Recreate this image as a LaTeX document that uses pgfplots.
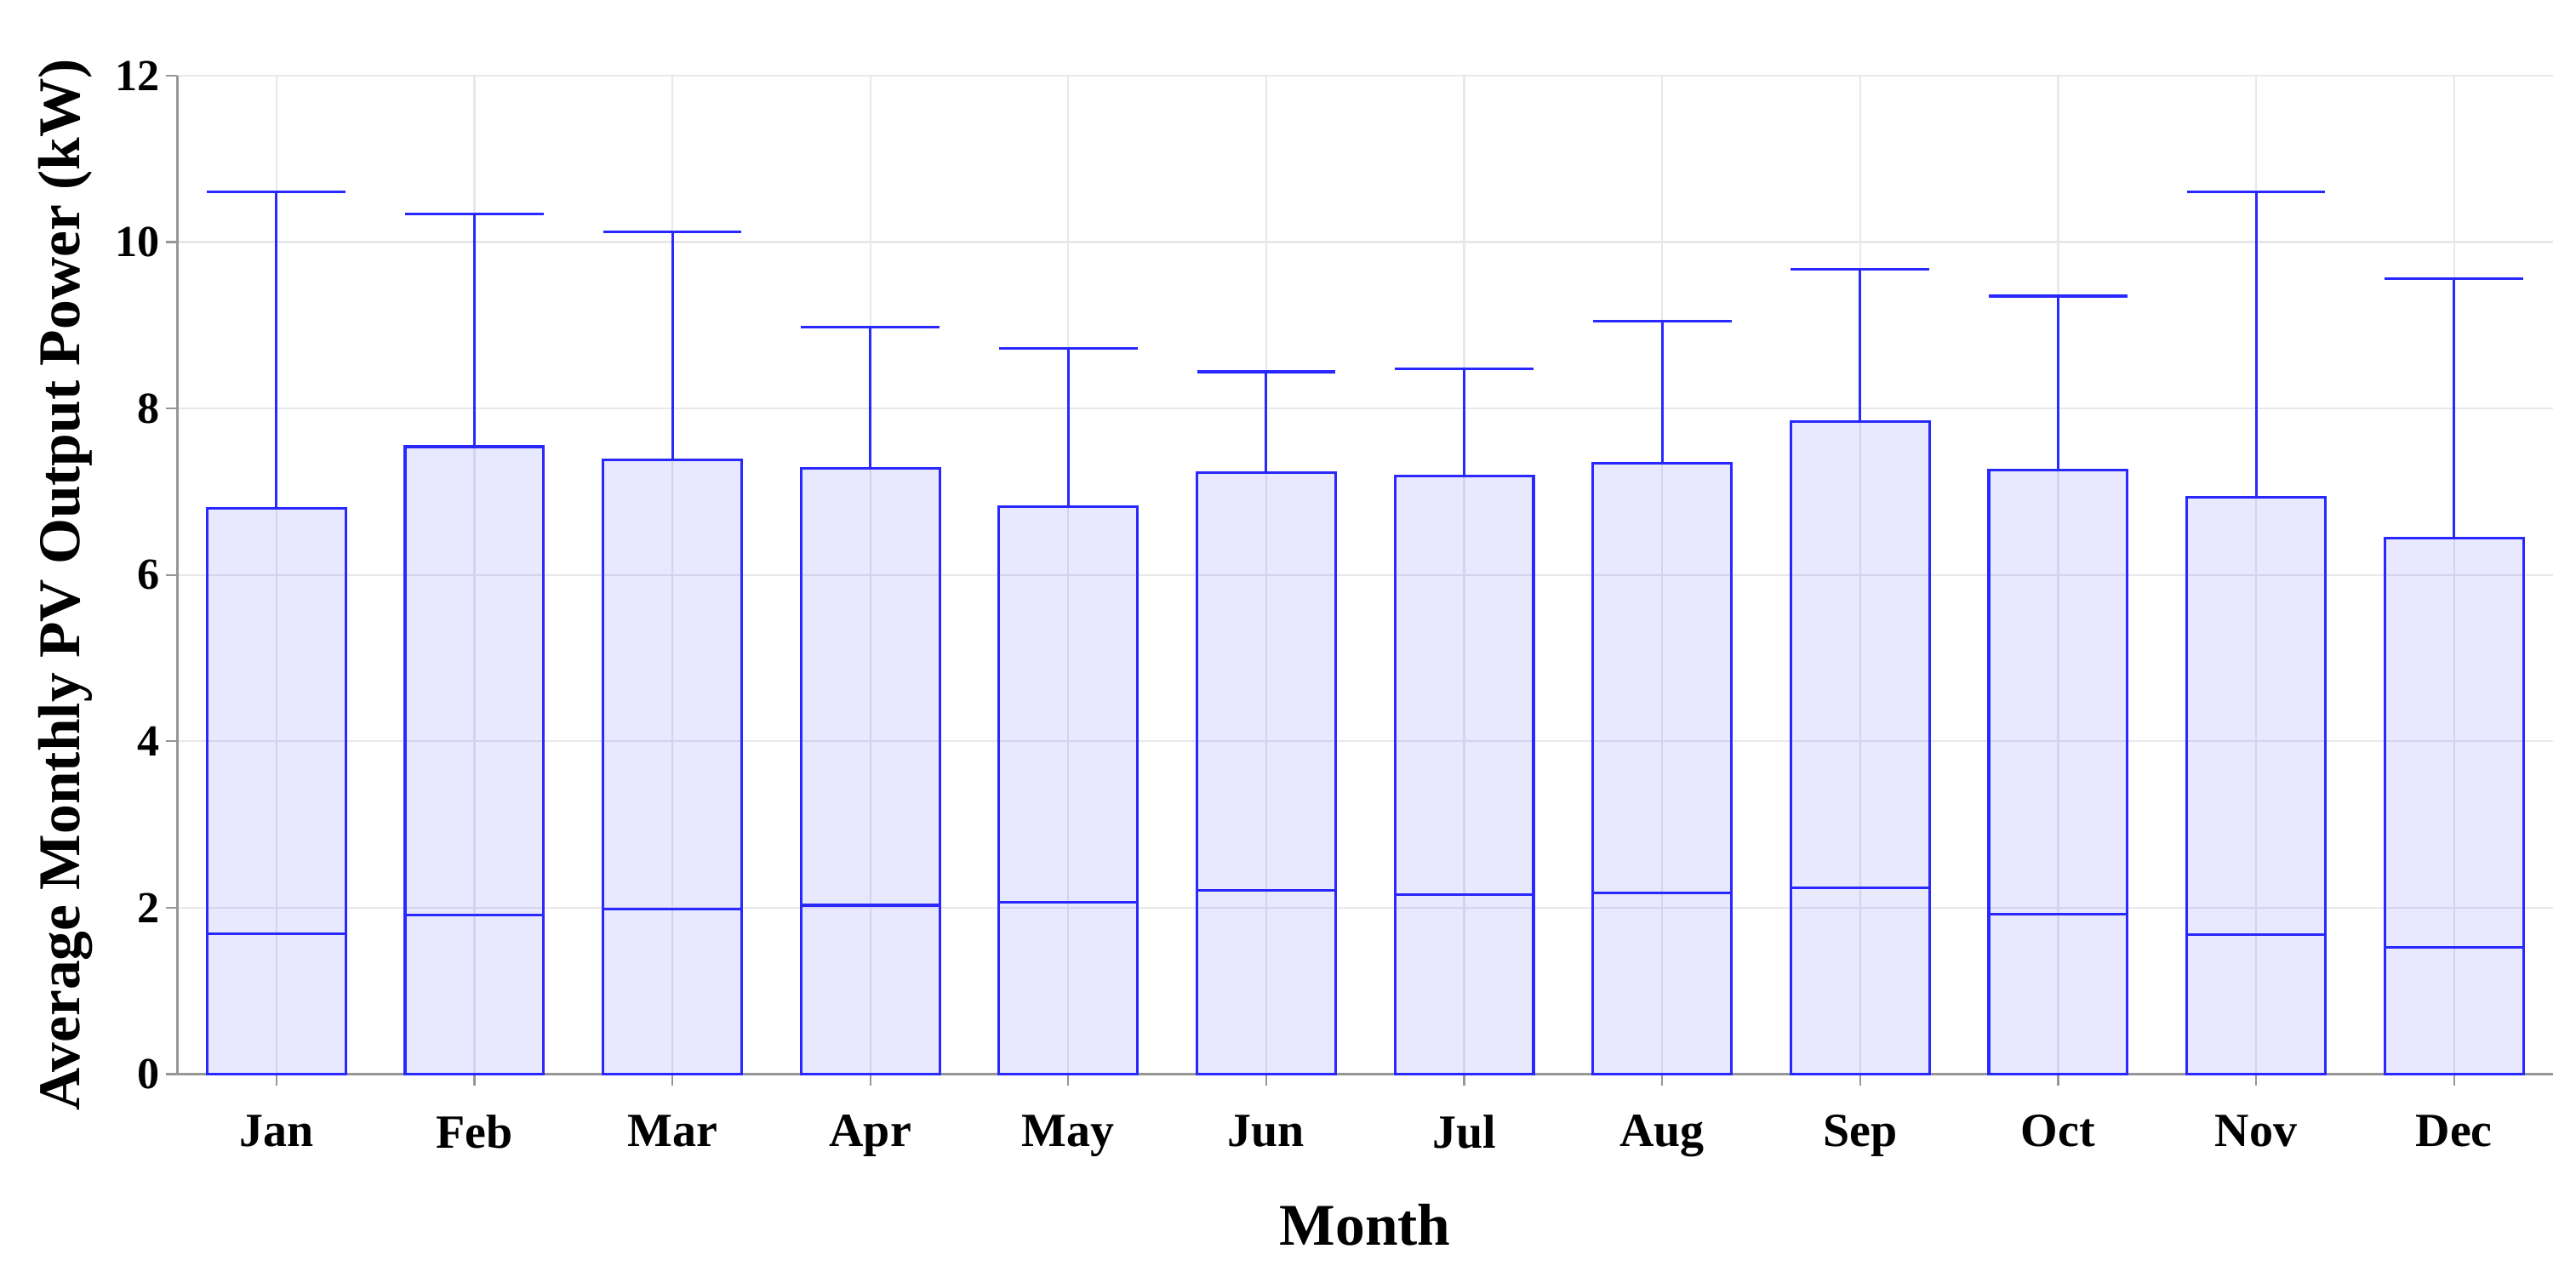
\documentclass[border=0pt]{standalone}
\usepackage{fontspec}
\setmainfont{Liberation Serif}
\usepackage{pgfplots}
\pgfplotsset{compat=1.18}
\usepgfplotslibrary{statistics}
\definecolor{boxblue}{RGB}{40,40,255}
\definecolor{gridc}{RGB}{232,232,236}
\definecolor{axisc}{RGB}{150,150,150}
\pgfplotsset{
  mybox/.style={draw=boxblue, fill=blue, fill opacity=0.09, line width=0.8pt, solid},
}
\begin{document}
\begin{tikzpicture}
\begin{axis}[
  scale only axis, width=723pt, height=304pt,
  xmin=-0.5, xmax=11.5, ymin=0, ymax=12,
  xtick={0,...,11},
  xticklabels={Jan,Feb,Mar,Apr,May,Jun,Jul,Aug,Sep,Oct,Nov,Dec},
  ytick={0,2,...,12},
  axis x line*=bottom, axis y line*=left,
  axis line style={-, axisc, line width=0.7pt},
  tick style={axisc, line width=0.6pt},
  tick align=outside, major tick length=3.5pt,
  grid=major, grid style={gridc, line width=0.6pt},
  /pgf/number format/assume math mode=true,
  xticklabel style={font=\bfseries\fontsize{14.5}{14.5}\selectfont, yshift=-5.5pt},
  yticklabel style={font=\bfseries\fontsize{13.5}{13.5}\selectfont, xshift=1.5pt},
  xlabel={Month}, ylabel={Average Monthly PV Output Power (kW)},
  every axis x label/.style={at={(axis description cs:0.5,0)}, yshift=-46pt, anchor=center, font=\bfseries\fontsize{18}{18}\selectfont},
  every axis y label/.style={at={(axis description cs:0,0.5)}, xshift=-34pt, yshift=-3pt, rotate=90, anchor=center, font=\bfseries\fontsize{18}{18}\selectfont},
  boxplot/draw direction=y,
  boxplot/box extend=0.7,
  boxplot/whisker extend=0.7,
  clip=false,
]
\coordinate (sw) at (rel axis cs:0,0);
\addplot[mybox, boxplot prepared={draw position=0, lower whisker=0, lower quartile=0, median=1.69, upper quartile=6.80, upper whisker=10.60}] coordinates {};
\addplot[mybox, boxplot prepared={draw position=1, lower whisker=0, lower quartile=0, median=1.91, upper quartile=7.54, upper whisker=10.34}] coordinates {};
\addplot[mybox, boxplot prepared={draw position=2, lower whisker=0, lower quartile=0, median=1.98, upper quartile=7.38, upper whisker=10.12}] coordinates {};
\addplot[mybox, boxplot prepared={draw position=3, lower whisker=0, lower quartile=0, median=2.03, upper quartile=7.28, upper whisker=8.98}] coordinates {};
\addplot[mybox, boxplot prepared={draw position=4, lower whisker=0, lower quartile=0, median=2.07, upper quartile=6.82, upper whisker=8.72}] coordinates {};
\addplot[mybox, boxplot prepared={draw position=5, lower whisker=0, lower quartile=0, median=2.21, upper quartile=7.23, upper whisker=8.44}] coordinates {};
\addplot[mybox, boxplot prepared={draw position=6, lower whisker=0, lower quartile=0, median=2.16, upper quartile=7.19, upper whisker=8.48}] coordinates {};
\addplot[mybox, boxplot prepared={draw position=7, lower whisker=0, lower quartile=0, median=2.18, upper quartile=7.34, upper whisker=9.05}] coordinates {};
\addplot[mybox, boxplot prepared={draw position=8, lower whisker=0, lower quartile=0, median=2.24, upper quartile=7.84, upper whisker=9.67}] coordinates {};
\addplot[mybox, boxplot prepared={draw position=9, lower whisker=0, lower quartile=0, median=1.92, upper quartile=7.26, upper whisker=9.35}] coordinates {};
\addplot[mybox, boxplot prepared={draw position=10, lower whisker=0, lower quartile=0, median=1.68, upper quartile=6.93, upper whisker=10.60}] coordinates {};
\addplot[mybox, boxplot prepared={draw position=11, lower whisker=0, lower quartile=0, median=1.52, upper quartile=6.44, upper whisker=9.56}] coordinates {};
\end{axis}
\pgfresetboundingbox
\path (sw) ++(-54pt,-63.5pt) rectangle ++(784pt,390.5pt);
\end{tikzpicture}
\end{document}
